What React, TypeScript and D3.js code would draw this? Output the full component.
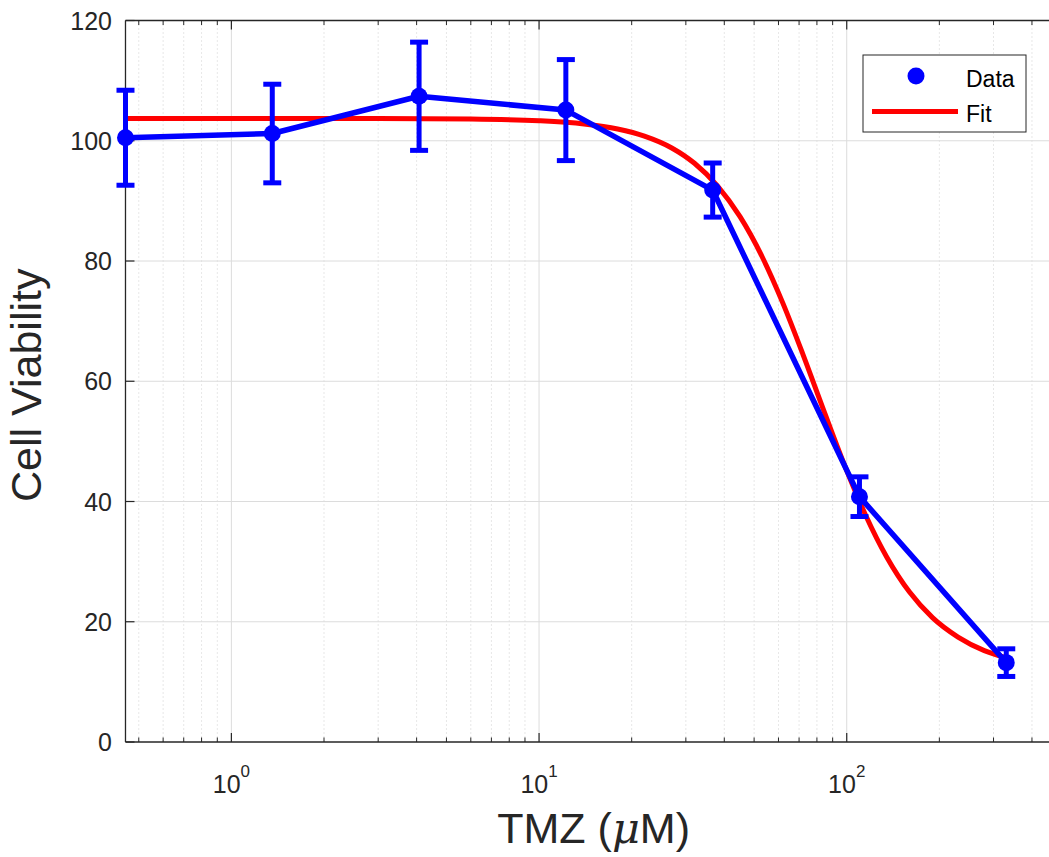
import React from "react";
import * as d3 from "d3";

const doses = [0.4527, 1.358, 4.074, 12.22, 36.67, 110, 330];
const viability = [100.5, 101.2, 107.4, 105.1, 91.8, 40.8, 13.2];
const errors = [7.9, 8.2, 9.0, 8.4, 4.5, 3.3, 2.3];

const fitX = [0.4527, 1, 3, 6, 10, 14, 18, 22, 27, 32, 38, 45, 53, 62, 72, 84, 98, 115, 135, 160, 190, 230, 280, 330];
const fitY = [103.7, 103.7, 103.68, 103.6, 103.32, 102.79, 101.95, 100.77, 98.8, 96.25, 92.5, 87.37, 80.79, 73.0, 64.52, 55.28, 46.25, 37.8, 30.73, 24.93, 20.68, 17.45, 15.2, 14.0];

const yTicks = [0, 20, 40, 60, 80, 100, 120];
const xMajor = [1, 10, 100];
const xMajorExp = ["0", "1", "2"];
const xMinor = [0.5, 0.6, 0.7, 0.8, 0.9, 2, 3, 4, 5, 6, 7, 8, 9, 20, 30, 40, 50, 60, 70, 80, 90, 200, 300, 400];

const W = 1049, H = 857;
const T = 20.5, B = 742;
const DEC = 308, X0 = 230.5;
const xDomain = [0.4527, 500];
const x = d3
  .scaleLog()
  .domain(xDomain)
  .range([X0 + DEC * Math.log10(xDomain[0]) + 1, X0 + DEC * Math.log10(xDomain[1])]);
const L = x.range()[0];
const R = x.range()[1];
const y = d3.scaleLinear().domain([0, 120]).range([B, T]);

const AX = "#262626";
const FONT = "'Liberation Sans', Arial, Helvetica, sans-serif";

export default function App() {
  const dataLine = d3.line<number>().x((_, i) => x(doses[i])).y((v) => y(v))(viability) || "";
  const fitLine =
    d3.line<number>().x((_, i) => x(fitX[i])).y((v) => y(v)).curve(d3.curveMonotoneX)(fitY) || "";
  return (
    <svg width={W} height={H} style={{ position: "absolute", left: 0, top: 0, background: "#fff" }} fontFamily={FONT}>
      {/* minor grid */}
      {xMinor.map((v) => (
        <line key={"mg" + v} x1={x(v)} x2={x(v)} y1={T} y2={B} stroke="#cfcfcf" strokeWidth={1} strokeDasharray="1,3" />
      ))}
      {/* major grid */}
      {xMajor.map((v) => (
        <line key={"Mg" + v} x1={x(v)} x2={x(v)} y1={T} y2={B} stroke="#dcdcdc" strokeWidth={1} />
      ))}
      {yTicks.slice(1, -1).map((v) => (
        <line key={"yg" + v} x1={L} x2={R} y1={y(v)} y2={y(v)} stroke="#dcdcdc" strokeWidth={1} />
      ))}
      {/* axes */}
      <line x1={L} x2={R} y1={B} y2={B} stroke={AX} strokeWidth={1.3} />
      <line x1={L} x2={R} y1={T} y2={T} stroke={AX} strokeWidth={1.3} />
      <line x1={L} x2={L} y1={T} y2={B} stroke={AX} strokeWidth={1.3} />
      {xMinor.map((v) => (
        <g key={"mt" + v}>
          <line x1={x(v)} x2={x(v)} y1={B} y2={B - 4.5} stroke={AX} strokeWidth={1} />
          <line x1={x(v)} x2={x(v)} y1={T} y2={T + 4.5} stroke={AX} strokeWidth={1} />
        </g>
      ))}
      {xMajor.map((v) => (
        <g key={"Mt" + v}>
          <line x1={x(v)} x2={x(v)} y1={B} y2={B - 9} stroke={AX} strokeWidth={1.2} />
          <line x1={x(v)} x2={x(v)} y1={T} y2={T + 9} stroke={AX} strokeWidth={1.2} />
        </g>
      ))}
      {yTicks.map((v) => (
        <line key={"yt" + v} x1={L} x2={L + 9} y1={y(v)} y2={y(v)} stroke={AX} strokeWidth={1.2} />
      ))}
      {/* tick labels */}
      {yTicks.map((v) => (
        <text key={"yl" + v} x={112} y={y(v) + 9} textAnchor="end" fontSize={25} fill={AX}>
          {v}
        </text>
      ))}
      {xMajor.map((v, i) => (
        <text key={"xl" + v} x={x(v)} y={793} textAnchor="middle" fontSize={25} fill={AX}>
          <tspan>10</tspan>
          <tspan dy={-16} fontSize={17}>{xMajorExp[i]}</tspan>
        </text>
      ))}
      {/* axis labels */}
      <text x={(L + R) / 2} y={843} textAnchor="middle" fontSize={43} fill={AX}>
        TMZ (<tspan fontStyle="italic" fontFamily="'DejaVu Serif', 'Liberation Serif', serif">μ</tspan>M)
      </text>
      <text
        transform={`translate(41, ${(T + B) / 2 + 4}) rotate(-90)`}
        textAnchor="middle"
        fontSize={43}
        fill={AX}
      >
        Cell Viability
      </text>
      {/* data */}
      <path d={fitLine} fill="none" stroke="#ff0000" strokeWidth={5} />
      <path d={dataLine} fill="none" stroke="#0000ff" strokeWidth={5.5} strokeLinejoin="round" />
      {doses.map((d, i) => {
        const cx = x(d);
        const top = y(viability[i] + errors[i]);
        const bot = y(viability[i] - errors[i]);
        return (
          <g key={"eb" + i} stroke="#0000ff" strokeWidth={5}>
            <line x1={cx} x2={cx} y1={top} y2={bot} />
            <line x1={cx - 9} x2={cx + 9} y1={top} y2={top} />
            <line x1={cx - 9} x2={cx + 9} y1={bot} y2={bot} />
          </g>
        );
      })}
      {doses.map((d, i) => (
        <circle key={"pt" + i} cx={x(d)} cy={y(viability[i])} r={8.5} fill="#0000ff" />
      ))}
      {/* legend */}
      <rect x={863} y={55} width={163} height={77} fill="#fff" stroke={AX} strokeWidth={1} />
      <circle cx={916} cy={76} r={8.5} fill="#0000ff" />
      <line x1={872} x2={958} y1={111.5} y2={111.5} stroke="#ff0000" strokeWidth={5} />
      <text x={966} y={86.5} fontSize={23} fill="#000">Data</text>
      <text x={966} y={121.5} fontSize={23} fill="#000">Fit</text>
    </svg>
  );
}
